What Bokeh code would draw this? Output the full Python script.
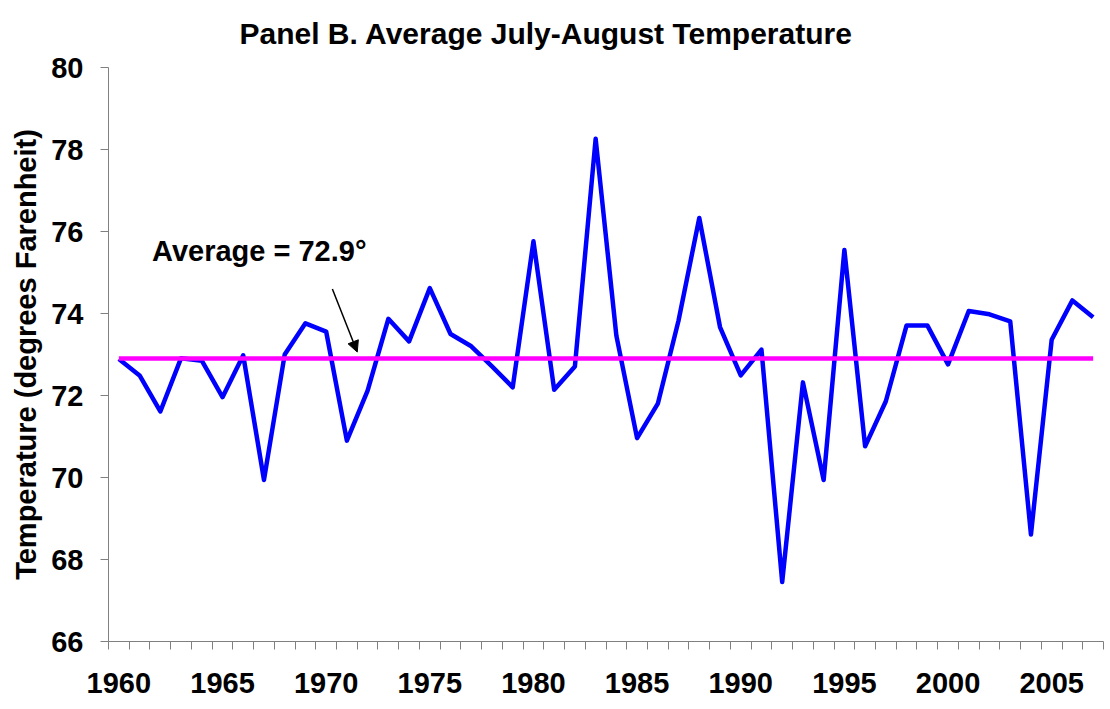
from bokeh.plotting import figure
from bokeh.models import Range1d, FixedTicker, Label, Arrow, NormalHead
from bokeh.embed import file_html
from bokeh.resources import INLINE

years = list(range(1960, 2008))
temps = [72.89, 72.49, 71.61, 72.91, 72.85, 71.96, 72.98, 69.94, 73.00, 73.76,
         73.56, 70.90, 72.12, 73.87, 73.32, 74.62, 73.50, 73.20, 72.71, 72.20,
         75.76, 72.14, 72.71, 78.26, 73.46, 70.96, 71.80, 73.83, 76.33, 73.67,
         72.49, 73.12, 67.45, 72.32, 69.94, 75.55, 70.76, 71.86, 73.71, 73.71,
         72.76, 74.06, 73.98, 73.81, 68.61, 73.36, 74.32, 73.91]
average = 72.9
avg_line = [average] * len(years)
x_label_years = [1960, 1965, 1970, 1975, 1980, 1985, 1990, 1995, 2000, 2005]
y_ticks = [66, 68, 70, 72, 74, 76, 78, 80]

title_text = "Panel B. Average July-August Temperature"
y_title = "Temperature (degrees Farenheit)"
avg_text = "Average = 72.9°"

FONT = "Liberation Sans"

p = figure(frame_width=995, frame_height=574, output_backend="svg",
           toolbar_location=None, x_range=Range1d(1959.5, 2007.5),
           y_range=Range1d(66, 80), min_border_left=108, min_border_top=67,
           min_border_right=5, min_border_bottom=66)
p.outline_line_color = None
p.xgrid.grid_line_color = None
p.ygrid.grid_line_color = None
p.background_fill_color = "white"
p.border_fill_color = "white"

# title
p.title.text = title_text
p.title.align = "left"
p.title.offset = 131
p.title.standoff = 31
p.title.vertical_align = "top"
p.title.text_font = FONT
p.title.text_font_style = "bold"
p.title.text_font_size = "30px"
p.title.text_color = "black"

p.line(years, temps, line_color="#0000FF", line_width=4.5, line_join="round")
p.line(years, avg_line, line_color="#FF00FF", line_width=4.5)

# x axis
xa = p.xaxis[0]
xa.ticker = FixedTicker(ticks=x_label_years,
                        minor_ticks=[y - 0.5 for y in years] + [years[-1] + 0.5])
xa.major_tick_out = 0
xa.major_tick_in = 0
xa.minor_tick_out = 8
xa.minor_tick_in = 0
xa.minor_tick_line_color = "#808080"
xa.axis_line_color = "#808080"
xa.major_label_text_font = FONT
xa.major_label_text_font_style = "bold"
xa.major_label_text_font_size = "29px"
xa.major_label_text_color = "black"
xa.major_label_standoff = 23

# y axis
ya = p.yaxis[0]
ya.ticker = FixedTicker(ticks=y_ticks)
ya.major_tick_out = 8
ya.major_tick_in = 0
ya.minor_tick_line_color = None
ya.major_tick_line_color = "#808080"
ya.axis_line_color = "#808080"
ya.major_label_text_font = FONT
ya.major_label_text_font_style = "bold"
ya.major_label_text_font_size = "29px"
ya.major_label_text_color = "black"
ya.major_label_standoff = 17
ya.axis_label = y_title
ya.axis_label_text_font = FONT
ya.axis_label_text_font_style = "bold"
ya.axis_label_text_font_size = "29px"
ya.axis_label_text_color = "black"
ya.axis_label_standoff = 6

# average annotation
p.add_layout(Label(x=1961.6, y=75.52, text=avg_text, text_align="left",
                   text_baseline="alphabetic", text_font=FONT,
                   text_font_style="bold", text_font_size="29px",
                   text_color="black"))
p.add_layout(Arrow(end=NormalHead(size=11, fill_color="black", line_color="black"),
                   x_start=1970.3, y_start=74.6, x_end=1971.5, y_end=73.06,
                   line_color="black", line_width=1.5))

open("out.html", "w").write(file_html(p, INLINE))
